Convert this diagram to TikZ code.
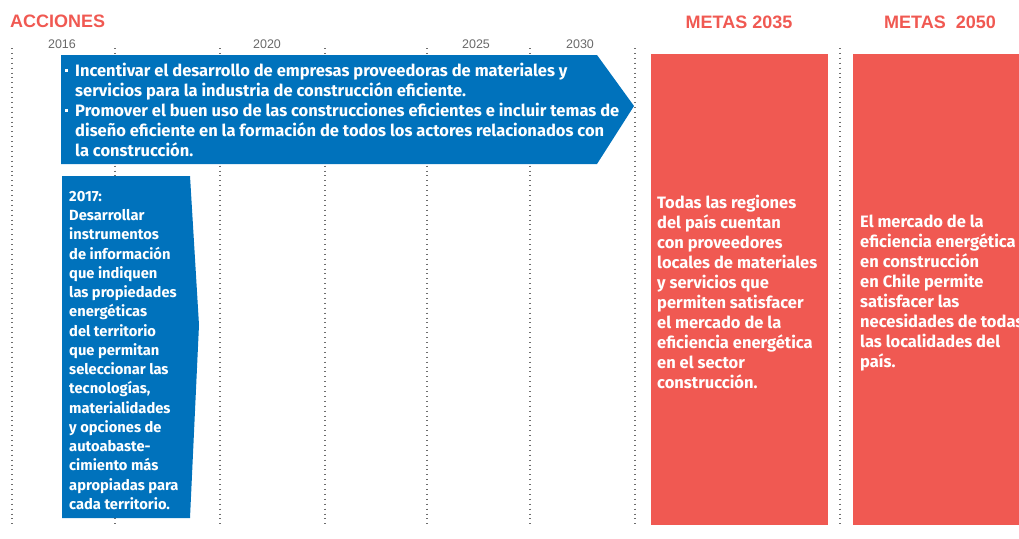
\documentclass[tikz,border=0pt]{standalone}
\usepackage{fontspec}
\setmainfont{Liberation Sans}
\newfontfamily\bodyfont{Fira Sans}
\definecolor{cblue}{RGB}{0,114,188}
\definecolor{cred}{RGB}{240,89,82}
\definecolor{cgray}{RGB}{105,105,105}
\definecolor{cdot}{RGB}{110,110,110}
\newcommand{\sqb}{\makebox[10pt][l]{\raisebox{0.28em}{\rule{2.8pt}{2.8pt}}}}
\begin{document}
\begin{tikzpicture}[x=1pt,y=-1pt,
  head/.style={font=\fontsize{18}{20}\selectfont\bfseries, text=cred, inner sep=0pt},
  year/.style={font=\fontsize{12.5}{14}\selectfont, text=cgray, inner sep=0pt},
  grid/.style={draw=cdot, line width=1.1pt, dash pattern=on 0.9pt off 4pt},
  body/.style={font=\bodyfont\bfseries\fontsize{16.5}{20}\selectfont, text=white, inner sep=0pt, align=left, anchor=north west},
  narrow/.style={body, font=\bodyfont\bfseries\fontsize{14.7}{19.25}\selectfont}]
\useasboundingbox (0,0) rectangle (1019,538);
\clip (0,0) rectangle (1019,538);
% grid lines
\foreach \gx/\gn in {12/g0,115/g1,220/g2,325/g3,427/g4,530/g5,635/g6,840/g7}{
  \coordinate (\gn t) at (\gx,48);
  \coordinate (\gn b) at (\gx,525);
  \draw[grid] (\gn t) -- (\gn b);
}
% headings
\node[head, anchor=west] (acc) at (10,21) {ACCIONES};
\node[head] (m35) at (739,22) {METAS 2035};
\node[head] (m50) at (940,22) {METAS\ \ 2050};
% years
\node[year] (y16) at (62,44) {2016};
\node[year] (y20) at (267,44) {2020};
\node[year] (y25) at (476,44) {2025};
\node[year] (y30) at (580,44) {2030};
% blue arrow
\fill[cblue] (61,55) -- (597,55) -- (634,106) -- (597,164) -- (61,164) -- cycle;
\node[body] (t1) at (65,63) {\sqb Incentivar el desarrollo de empresas proveedoras de materiales y\\
\hspace*{10pt}servicios para la industria de construcción eficiente.\\
\sqb Promover el buen uso de las construcciones eficientes e incluir temas de\\
\hspace*{10pt}diseño eficiente en la formación de todos los actores relacionados con\\
\hspace*{10pt}la construcción.};
% 2017 box
\fill[cblue] (62,176) -- (190,176) -- (199,325) -- (190,518) -- (62,518) -- cycle;
\node[narrow] (t2) at (69,191) {2017:\\Desarrollar\\instrumentos\\de información\\que indiquen\\las propiedades\\energéticas\\del territorio\\que permitan\\seleccionar las\\tecnologías,\\materialidades\\y opciones de\\autoabaste-\\cimiento más\\apropiadas para\\cada territorio.};
% red boxes
\fill[cred] (651,54) rectangle (828,525);
\fill[cred] (853,54) rectangle (1019,525);
\node[body] (t3) at (657,194.5) {Todas las regiones\\del país cuentan\\con proveedores\\locales de materiales\\y servicios que\\permiten satisfacer\\el mercado de la\\eficiencia energética\\en el sector\\construcción.};
\node[body] (t4) at (860,215) {El mercado de la\\eficiencia energética\\en construcción\\en Chile permite\\satisfacer las\\necesidades de todas\\las localidades del\\país.};
\end{tikzpicture}
\end{document}
